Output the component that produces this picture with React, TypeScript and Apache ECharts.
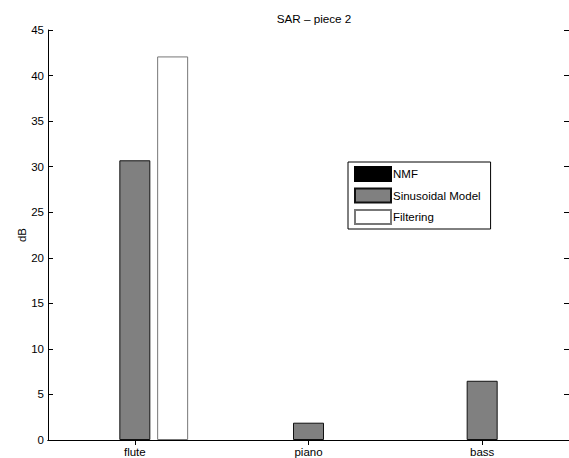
import React, { useEffect, useRef } from "react";
import * as echarts from "echarts";

const categories = ["flute", "piano", "bass"];
// Bars not visible in the reference (at or below 0) are left empty.
const nmfValues: (number | null)[] = [null, null, null];
const sinusoidalValues: (number | null)[] = [30.7, 1.9, 6.5];
const filteringValues: (number | null)[] = [42.1, null, null];
const seriesNames = ["NMF", "Sinusoidal Model", "Filtering"];
const titleText = "SAR \u2013 piece 2";
const yName = "dB";

const FONT = "Liberation Sans, Arial, Helvetica, sans-serif";

export default function App() {
  const ref = useRef<HTMLDivElement>(null);
  useEffect(() => {
    if (!ref.current) return;
    const chart = echarts.init(ref.current, undefined, { renderer: "svg" });
    const axisLine = { show: true, lineStyle: { color: "#000", width: 1 } };
    const tickStyle = { color: "#000", width: 1 };
    const barCommon = {
      type: "bar" as const,
      barWidth: 31,
      barGap: "22%",
    };
    chart.setOption({
      animation: false,
      backgroundColor: "#fff",
      title: {
        text: titleText,
        left: 309,
        top: 7,
        textAlign: "center",
        textStyle: { fontFamily: FONT, fontSize: 11.7, fontWeight: "normal", color: "#000" },
      },
      grid: { left: 48, top: 30, width: 522, height: 411, containLabel: false },
      legend: {
        orient: "vertical",
        left: 348,
        top: 162,
        data: seriesNames,
        icon: "rect",
        itemWidth: 36,
        itemHeight: 14,
        itemGap: 5.5,
        padding: [4, 10, 4, 6],
        borderColor: "#000",
        borderWidth: 1,
        backgroundColor: "#fff",
        selectedMode: false,
        textStyle: { fontFamily: FONT, fontSize: 11.5, color: "#000", padding: [0, 0, 0, -3] },
      },
      xAxis: [
        {
          type: "category",
          data: categories,
          position: "bottom",
          axisLine,
          axisTick: { show: true, inside: true, alignWithLabel: true, length: 5, lineStyle: tickStyle },
          axisLabel: { fontFamily: FONT, fontSize: 11.5, color: "#000", margin: 6 },
          splitLine: { show: false },
        },
        {
          type: "category",
          data: categories,
          position: "top",
          axisLine,
          axisTick: { show: true, inside: true, alignWithLabel: true, length: 5, lineStyle: tickStyle },
          axisLabel: { show: false },
          splitLine: { show: false },
        },
      ],
      yAxis: [
        {
          type: "value",
          min: 0,
          max: 45,
          interval: 5,
          position: "left",
          name: yName,
          nameLocation: "middle",
          nameGap: 20,
          nameMoveOverlap: false,
          nameTextStyle: { fontFamily: FONT, fontSize: 11.5, color: "#000" },
          axisLine,
          axisTick: { show: true, inside: true, length: 5, lineStyle: tickStyle },
          axisLabel: { fontFamily: FONT, fontSize: 11.5, color: "#000", margin: 4 },
          splitLine: { show: false },
        },
        {
          type: "value",
          min: 0,
          max: 45,
          interval: 5,
          position: "right",
          axisLine,
          axisTick: { show: true, inside: true, length: 5, lineStyle: tickStyle },
          axisLabel: { show: false },
          splitLine: { show: false },
        },
      ],
      series: [
        {
          ...barCommon,
          name: seriesNames[0],
          data: nmfValues,
          itemStyle: { color: "#000", borderColor: "#000", borderWidth: 1 },
        },
        {
          ...barCommon,
          name: seriesNames[1],
          data: sinusoidalValues,
          itemStyle: { color: "#808080", borderColor: "#111", borderWidth: 1 },
        },
        {
          ...barCommon,
          name: seriesNames[2],
          data: filteringValues,
          itemStyle: { color: "#fff", borderColor: "#777", borderWidth: 1 },
        },
      ],
    });
    return () => chart.dispose();
  }, []);
  return (
    <div
      ref={ref}
      style={{ position: "fixed", left: 0, top: 0, width: 569, height: 458 }}
    />
  );
}
